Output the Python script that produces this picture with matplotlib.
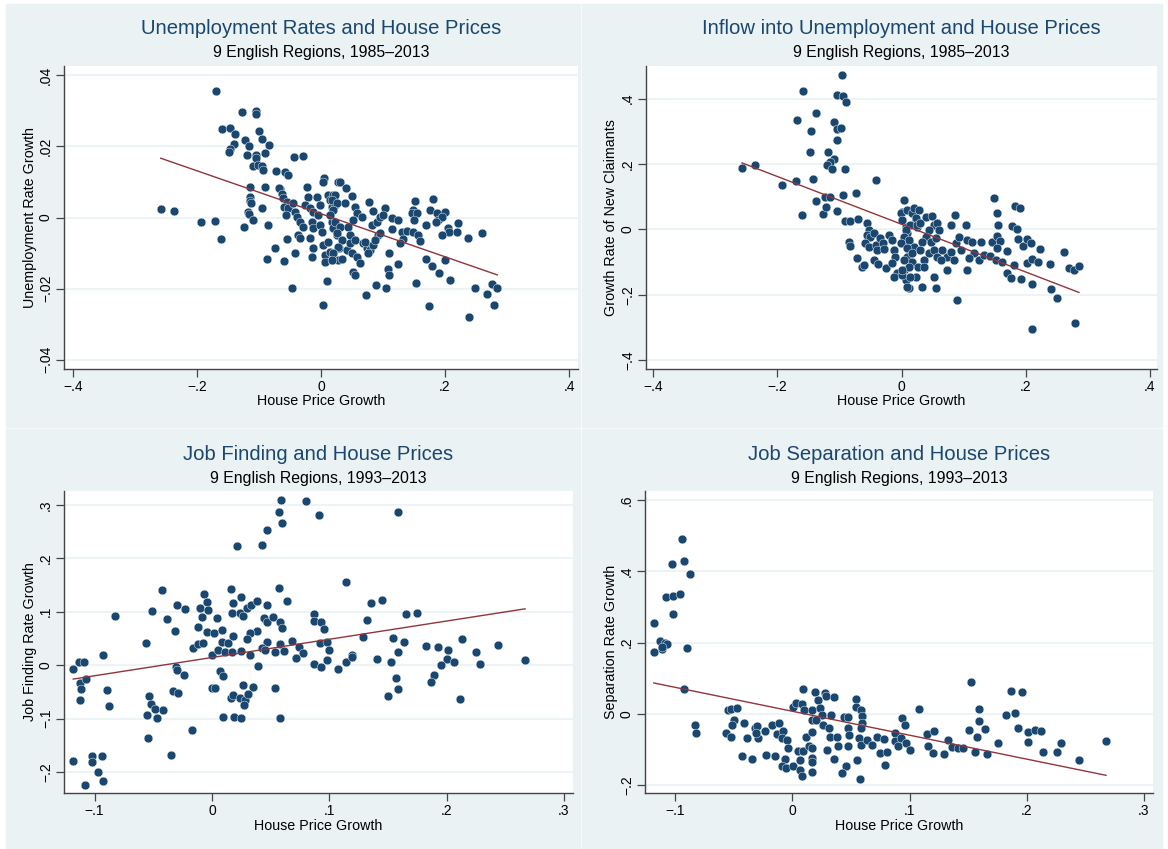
import matplotlib.pyplot as plt
import numpy as np
from matplotlib.patches import Rectangle

plt.rcParams['font.family'] = ['Liberation Sans', 'DejaVu Sans']

# (house price growth, unemployment rate growth), 9 regions 1985-2013
unemp = [
    (-0.169, 0.0356), (-0.128, 0.0297), (-0.105, 0.030), (-0.105, 0.029), (-0.160, 0.025),
    (-0.147, 0.0253), (-0.139, 0.0235), (-0.123, 0.0217), (-0.116, 0.0202), (-0.0995, 0.0243),
    (-0.0957, 0.0221), (-0.084, 0.0205), (-0.140, 0.0206), (-0.146, 0.0194), (-0.149, 0.0185),
    (-0.120, 0.0175), (-0.105, 0.0176), (-0.105, 0.0168), (-0.090, 0.018), (-0.110, 0.0144),
    (-0.101, 0.0147), (-0.0957, 0.0146), (-0.093, 0.0133), (-0.0726, 0.0131), (-0.0576, 0.0127),
    (-0.0537, 0.0119), (-0.0435, 0.0169), (-0.0285, 0.0172), (-0.1145, 0.0086), (-0.091, 0.0086),
    (-0.066, 0.008), (-0.1145, 0.0058), (-0.1145, 0.0047), (-0.113, 0.0042), (-0.095, 0.0028),
    (-0.118, 0.0016), (-0.116, 0.0009), (-0.109, -0.0008), (-0.124, -0.0028), (-0.0855, -0.0022),
    (-0.2585, 0.0023), (-0.237, 0.0017), (-0.1935, -0.0012), (-0.171, -0.0010), (-0.162, -0.006),
    (-0.0747, -0.0087), (-0.0866, -0.0117), (-0.060, -0.0122), (-0.0424, -0.0101), (-0.0548, -0.006),
    (-0.0468, -0.0199), (0.0092, -0.0178), (0.0037, -0.0246),
    (-0.067, 0.0082), (-0.0634, 0.0066), (-0.0608, 0.0054), (-0.0553, 0.0044), (-0.0597, 0.003),
    (-0.0527, 0.0026), (-0.0565, 0.0007), (-0.0446, 0.004), (-0.0419, 0.0016), (-0.0392, 0.0002),
    (-0.0339, -0.0012), (-0.0366, -0.0049), (-0.0339, -0.0058), (-0.0285, -0.0026), (-0.0231, 0.0087),
    (-0.021, 0.0058), (-0.0258, 0.0035), (-0.0177, 0.0026), (-0.0124, 0.0016), (-0.015, -0.0012),
    (-0.0124, -0.003), (-0.0177, -0.0058), (-0.0124, -0.0087), (-0.015, -0.011), (-0.0069, 0.0058),
    (-0.0016, 0.0035), (-0.0044, 0.0007), (-0.0016, -0.0021), (0.001, -0.004), (0.0037, -0.0077),
    (0.0065, -0.0105), (0.0065, -0.0124), (0.0048, 0.011), (0.0037, 0.0099), (0.0118, 0.0063),
    (0.0145, 0.0049), (0.0172, 0.003), (0.0199, 0.0063), (0.0226, 0.0035), (0.0145, 0.0007),
    (0.0172, -0.0012), (0.0199, -0.003), (0.0253, -0.0049), (0.0118, -0.0068), (0.0145, -0.0096),
    (0.0279, 0.01), (0.0296, -0.0087), (0.0279, -0.0119), (0.0172, -0.0119),
    (0.0306, 0.0101), (0.0403, 0.0082), (0.0495, 0.006), (0.0226, 0.0063), (0.0172, 0.0049),
    (0.0253, 0.004), (0.0199, 0.0021), (0.0145, 0.0007), (0.0226, -0.0012), (0.0306, -0.0026),
    (0.0253, -0.0044), (0.0333, -0.0063), (0.0279, -0.0082), (0.0199, -0.0101), (0.0172, -0.0119),
    (0.0333, -0.0117), (0.0414, -0.0091), (0.0468, -0.0073), (0.0387, 0.004), (0.0548, 0.003),
    (0.0575, 0.0012), (0.0522, -0.0007), (0.0441, -0.0026), (0.0468, -0.0049), (0.0548, -0.0063),
    (0.0495, -0.0101), (0.0575, -0.011), (0.0629, -0.0129), (0.0522, -0.0152), (0.0548, -0.0162),
    (0.0656, 0.0002), (0.0683, -0.0073), (0.0737, -0.0087), (0.071, -0.0068), (0.079, -0.0091),
    (0.0844, -0.0077), (0.0763, -0.0101), (0.078, 0.0044), (0.0844, 0.0019), (0.0817, -0.0021),
    (0.0898, -0.0012), (0.0952, 0.0002), (0.1032, 0.0026), (0.1005, 0.0007), (0.0925, -0.0049),
    (0.0871, -0.0063), (0.0952, -0.0044), (0.114, -0.0002), (0.1247, -0.0007), (0.114, -0.0032),
    (0.130, -0.004), (0.1328, -0.0061), (0.1274, -0.0073), (0.1382, -0.0037), (0.1489, 0.0021),
    (0.1462, 0.0012), (0.1516, 0.0047), (0.1554, 0.0012), (0.15, -0.0007), (0.1478, -0.004),
    (0.157, -0.0049), (0.1597, -0.0065), (0.1758, 0.0021), (0.1801, 0.0051), (0.1866, 0.0012),
    (0.1892, -0.0007), (0.2, 0.0015), (0.1946, 0.0002), (0.1855, -0.0012), (0.1688, -0.0022),
    (0.2215, -0.0015), (0.2054, -0.003), (0.207, -0.004), (0.2188, -0.004), (0.1946, -0.0049),
    (0.2376, -0.0058), (0.2602, -0.0044), (0.1091, -0.0101), (0.1237, -0.0131), (0.1086, -0.0145),
    (0.1102, -0.0162), (0.0882, -0.019), (0.1048, -0.0199), (0.0726, -0.0218), (0.1532, -0.0183),
    (0.1694, -0.0117), (0.179, -0.0136), (0.1909, -0.0157), (0.2, -0.0119), (0.2081, -0.0176),
    (0.1737, -0.0248), (0.2387, -0.028), (0.2489, -0.0198), (0.2677, -0.0215), (0.2753, -0.0188),
    (0.2844, -0.0199), (0.2785, -0.0246),
]

# (house price growth, growth rate of new claimants), 1985-2013
inflow = [
    (-0.257, 0.1865), (-0.2355, 0.1957), (-0.1919, 0.1355), (-0.1694, 0.1477), (-0.1602, 0.0437),
    (-0.158, 0.4239), (-0.1677, 0.3343), (-0.1457, 0.2997), (-0.1479, 0.2364), (-0.1376, 0.3557),
    (-0.1431, 0.1538), (-0.1382, 0.0865), (-0.1263, 0.0468), (-0.121, 0.0691), (-0.1226, 0.0978),
    (-0.1145, 0.0997), (-0.1092, 0.3272), (-0.1038, 0.3066), (-0.0973, 0.3098), (-0.1038, 0.2731),
    (-0.1189, 0.2364), (-0.1092, 0.215), (-0.1145, 0.2068), (-0.1199, 0.1966), (-0.1118, 0.1834),
    (-0.0914, 0.1834), (-0.1038, 0.4117), (-0.094, 0.4086), (-0.0952, 0.4719), (-0.0887, 0.3884),
    (-0.094, 0.1049), (-0.1038, 0.056), (-0.0903, 0.0263), (-0.0823, 0.0245), (-0.0737, 0.1101),
    (-0.0699, 0.0315), (-0.0419, 0.1508), (-0.085, -0.0379), (-0.0833, -0.0511), (-0.0715, -0.0887),
    (-0.0634, -0.1143), (-0.0608, -0.1091),
    (-0.0554, 0.0183), (-0.0527, -0.0021), (-0.0554, -0.0174), (-0.05, -0.0226), (-0.0446, -0.0104),
    (-0.0581, -0.041), (-0.0527, -0.0532), (-0.0419, -0.048), (-0.0392, -0.0633), (-0.0446, -0.0939),
    (-0.0382, -0.1061), (-0.0339, -0.0275), (-0.0296, -0.041), (-0.0285, -0.0612), (-0.0242, -0.1193),
    (-0.0204, -0.0174), (-0.015, -0.0327), (-0.0124, -0.0633), (-0.0097, -0.0838), (-0.015, -0.1041),
    (-0.0069, -0.1346), (-0.0124, -0.1448), (0.0011, 0.0538), (0.0037, 0.0896), (0.0011, 0.0284),
    (0.0065, 0.008), (0.0092, -0.0122), (0.0118, -0.0379), (0.0145, -0.0581), (0.0092, -0.0838),
    (0.0172, -0.0991), (0.0037, -0.1247), (0.0065, -0.1553), (0.0118, -0.1808), (0.0011, -0.1397),
    (0.0199, 0.059), (0.0226, 0.0284), (0.0253, 0.008), (0.0199, -0.0532), (0.0263, -0.1143),
    (0.0226, -0.1448),
    (-0.0016, 0.0489), (0.001, 0.0284), (0.0091, 0.059), (0.0172, 0.0489), (0.0199, 0.0642),
    (0.028, 0.059), (0.0226, 0.0336), (0.0145, 0.0131), (0.0065, -0.0021), (0.0038, -0.0226),
    (0.0118, -0.0327), (-0.0016, -0.0428), (0.0091, -0.0581), (0.0172, -0.0734), (0.0038, -0.0939),
    (0.0118, -0.1144), (0.001, -0.1245), (0.0145, -0.145), (0.0091, -0.1755), (0.0253, 0.0131),
    (0.0306, 0.0183), (0.0387, 0.0385), (0.0495, 0.0407), (0.0522, 0.0131), (0.0575, 0.0183),
    (0.0602, -0.0021), (0.0441, -0.0021), (0.0387, -0.0226), (0.0333, -0.0379), (0.0468, -0.0379),
    (0.0548, -0.0275), (0.0306, -0.0633), (0.036, -0.0939), (0.0441, -0.0734), (0.0522, -0.0633),
    (0.0575, -0.0838), (0.0656, -0.0633), (0.0737, -0.0838), (0.063, -0.0939), (0.079, -0.0685),
    (0.0844, -0.0939), (0.0871, -0.0428), (0.0925, -0.0226), (0.0952, -0.0633), (0.1032, 0.0131),
    (0.079, 0.0131), (0.0855, 0.0437), (0.1059, -0.0327), (0.114, -0.0379), (0.1167, -0.0734),
    (0.1086, -0.0887), (0.1247, -0.0939), (0.1274, -0.0379), (0.1328, -0.0786), (0.1425, -0.0817),
    (0.1462, -0.0379), (0.1543, -0.0205), (0.1516, -0.0939), (0.1624, -0.0991), (0.1489, 0.0966),
    (0.1532, 0.0489), (0.1554, 0.0131), (0.1586, -0.0358), (0.1532, -0.0581), (0.1704, -0.0654),
    (0.1812, -0.1092), (0.1704, -0.1346), (0.1758, -0.1498), (0.1785, 0.011), (0.1855, 0.0009),
    (0.1823, 0.0713), (0.1909, 0.0642), (0.1876, -0.0297), (0.1962, -0.0511), (0.2016, -0.0287),
    (0.2091, -0.0419), (0.2231, -0.0602), (0.2027, -0.1021), (0.2108, -0.0917), (0.2199, -0.0991),
    (0.2392, -0.107), (0.2618, -0.0685), (0.2699, -0.1193), (0.278, -0.1245), (0.286, -0.1122),
    (0.193, -0.1529), (0.2102, -0.1673), (0.2403, -0.1835), (0.25, -0.2092), (0.0898, -0.2162),
    (0.2108, -0.3058), (0.2796, -0.2875), (0.0333, -0.1755), (0.0548, -0.1804), (0.036, -0.1144),
    (0.0522, -0.145), (0.1059, -0.1245), (0.0737, -0.1245),
]

# (house price growth, job finding rate growth), 1993-2013
jobfind = [
    (-0.1181, -0.0069), (-0.113, 0.0067), (-0.109, 0.0067), (-0.1124, -0.0336), (-0.1118, -0.0449),
    (-0.1124, -0.0649), (-0.1073, -0.0256), (-0.1181, -0.1802), (-0.1022, -0.1708), (-0.102, -0.1813),
    (-0.094, -0.1708), (-0.0968, -0.2), (-0.0931, -0.2163), (-0.1082, -0.2243), (-0.0926, 0.0193),
    (-0.0897, -0.0475), (-0.0875, -0.0774), (-0.0826, 0.0927), (-0.0565, 0.0422), (-0.0514, 0.1021),
    (-0.0426, 0.1402), (-0.0386, 0.086), (-0.0313, 0.0641), (-0.0296, 0.1133), (-0.0227, 0.1047),
    (-0.0307, -0.0026), (-0.0301, -0.0088), (-0.0236, -0.0181), (-0.0335, -0.0493), (-0.029, -0.0531),
    (-0.0539, -0.0574), (-0.0551, -0.0929), (-0.0522, -0.0723), (-0.0471, -0.0985), (-0.0486, -0.0822),
    (-0.0415, -0.0835), (-0.0545, -0.1364), (-0.0352, -0.1682), (-0.0173, -0.1209), (-0.0159, 0.0329),
    (-0.0117, 0.0393), (-0.0074, 0.0411), (-0.0117, 0.0716), (-0.0088, 0.0897), (-0.0068, 0.1327),
    (-0.0045, 0.1183), (-0.0102, 0.1065), (-0.0031, 0.1034), (-0.0045, 0.0628), (0.0003, 0.0193),
    (0.0017, 0.0598), (0.004, 0.0878), (0.0083, 0.066), (0.0054, 0.0286), (0.0083, 0.0441),
    (0.0139, 0.0422), (0.0111, 0.0254), (0.0176, 0.0548), (0.0168, 0.0254), (0.0244, 0.0273),
    (0.0321, 0.0187), (0.0394, -0.0013), (0.0068, -0.0107), (0.0091, -0.02), (-0.0003, -0.043),
    (0.0026, -0.0437), (0.0164, 0.1432), (0.0181, 0.1159), (0.0247, 0.1282), (0.0168, 0.0972),
    (0.0239, 0.0972), (0.0261, 0.0927), (0.0296, 0.1065), (0.033, 0.1127), (0.0381, 0.1202),
    (0.0466, 0.1121), (0.0443, 0.0878), (0.0471, 0.0804), (0.0381, 0.0647), (0.0324, 0.0598),
    (0.0296, 0.0492), (0.0471, 0.0441), (0.0423, 0.0318), (0.0451, 0.0286), (0.0261, -0.0381),
    (0.0347, -0.0405), (0.0164, -0.0617), (0.0181, -0.0555), (0.0239, -0.0617), (0.0281, -0.0649),
    (0.0307, -0.0542), (0.0273, -0.0755), (0.0091, -0.0972), (0.0187, -0.0972), (0.0244, -0.0998),
    (0.021, 0.223), (0.0426, 0.2243), (0.0471, 0.2523), (0.0571, 0.2871), (0.0588, 0.3084),
    (0.0594, 0.2666), (0.0801, 0.3077), (0.0917, 0.2804), (0.0568, 0.1439), (0.0636, 0.1202),
    (0.0522, 0.0897), (0.0579, 0.0815), (0.0594, 0.0703), (0.0537, 0.0249), (0.0579, 0.0399),
    (0.0616, 0.0273), (0.0679, 0.046), (0.0744, 0.0348), (0.0778, 0.0236), (0.0716, 0.0124),
    (0.0537, -0.0424), (0.0577, -0.0985), (0.0869, 0.0953), (0.0869, 0.0822), (0.0928, 0.0815),
    (0.0957, 0.0685), (0.092, 0.0411), (0.0977, 0.0436), (0.0994, 0.028), (0.0977, 0.0099),
    (0.0869, 0.003), (0.0934, -0.0037), (0.1073, -0.0069), (0.1147, 0.1557), (0.1147, 0.0067),
    (0.1198, 0.0193), (0.1198, 0.015), (0.1289, 0.0535), (0.1323, 0.0852), (0.1352, 0.1159),
    (0.1448, 0.1215), (0.1411, 0.0112), (0.1525, 0.0062), (0.1545, 0.0516), (0.1635, 0.043),
    (0.1587, 0.0249), (0.1658, 0.0959), (0.1746, 0.0983), (0.1587, 0.286), (0.1567, -0.0237),
    (0.159, -0.0443), (0.1499, -0.0574), (0.1823, 0.0367), (0.1925, 0.0342), (0.201, 0.0286),
    (0.2004, 0.0112), (0.2064, 0.0067), (0.1951, 0.0006), (0.1894, -0.0181), (0.1863, -0.0312),
    (0.2132, 0.0486), (0.2115, -0.063), (0.2249, 0.0249), (0.2285, 0.003), (0.2442, 0.0385),
    (0.2669, 0.0099),
]

# (house price growth, separation rate growth), 1993-2013
jobsep = [
    (-0.1183, 0.1748), (-0.1177, 0.2561), (-0.1132, 0.2048), (-0.1113, 0.1823), (-0.109, 0.1982),
    (-0.107, 0.1954), (-0.1109, 0.1889), (-0.1019, 0.2795), (-0.1078, 0.329), (-0.1019, 0.331),
    (-0.0962, 0.3357), (-0.1024, 0.4198), (-0.0942, 0.49), (-0.0927, 0.43), (-0.087, 0.3927),
    (-0.0896, 0.1842), (-0.0925, 0.0692), (-0.0831, -0.0309), (-0.0819, -0.0533), (-0.0563, -0.0533),
    (-0.0526, -0.0664), (-0.0549, 0.0093), (-0.052, 0.0131), (-0.0472, 0.0149), (-0.0501, -0.0187),
    (-0.0512, -0.0309), (-0.0415, -0.0271), (-0.0387, -0.0692), (-0.0427, -0.1197), (-0.0347, -0.1272),
    (-0.0319, -0.0411), (-0.0305, -0.0355), (-0.0293, -0.0683), (-0.0307, -0.0542), (-0.0233, -0.0486),
    (-0.0225, -0.115), (-0.0171, -0.0309), (-0.0117, -0.0262), (-0.0128, -0.0561), (-0.008, -0.0496),
    (-0.0085, -0.0683), (-0.0043, -0.0729), (-0.0037, -0.0963), (-0.0151, -0.1197), (-0.0063, -0.1272),
    (-0.0091, -0.1459), (-0.0051, -0.1524), (0.0005, -0.1477), (0.0048, -0.1057), (0.009, -0.1057),
    (0.0062, -0.129), (0.0068, -0.1571), (0.0085, -0.1739), (0.0005, 0.0178), (0.0034, 0.0299),
    (0.009, 0.0692), (0.0079, 0.028), (0.0096, 0.0112), (0.0113, -0.0664), (0.0139, -0.0916),
    (0.0171, -0.0963), (0.0165, -0.1244), (0.0171, -0.1365), (0.0171, -0.1627), (0.0171, -0.0514),
    (0.0171, 0.0112), (0.019, 0.0617), (0.0219, 0.0393), (0.0239, 0.0159), (0.0253, -0.0028),
    (0.0171, -0.0187), (0.0199, -0.0187), (0.0276, 0.058), (0.0284, 0.0486), (0.0333, -0.0028),
    (0.0352, 0.0458), (0.0261, -0.0309), (0.0312, -0.0402), (0.0324, -0.0654), (0.0295, -0.101),
    (0.0358, -0.1272), (0.0387, -0.0916), (0.0384, -0.0654), (0.0438, -0.0093), (0.0474, -0.0093),
    (0.0455, -0.1459), (0.0478, -0.0402), (0.0483, -0.0589), (0.0478, -0.0916), (0.0423, -0.1655),
    (0.054, 0.0421), (0.0546, 0.0178), (0.0589, 0.0112), (0.0597, -0.0056), (0.0597, -0.0262),
    (0.0589, -0.0402), (0.0569, -0.0683), (0.0589, -0.0888), (0.0551, -0.129), (0.0574, -0.1823),
    (0.0637, -0.0729), (0.0683, -0.087), (0.0722, -0.0664), (0.0747, -0.1103), (0.0782, -0.0701),
    (0.0807, -0.1075), (0.0788, -0.1431), (0.0876, -0.0542), (0.0873, -0.0776), (0.0904, -0.0916),
    (0.0935, -0.0122), (0.0964, -0.0327), (0.0924, -0.0683), (0.0973, -0.0823), (0.1001, -0.1028),
    (0.1078, 0.014), (0.1152, -0.057), (0.1206, -0.0496), (0.1155, -0.0907), (0.1203, -0.1113),
    (0.1297, -0.1131), (0.1328, -0.0739), (0.1362, -0.0944), (0.1413, -0.0963), (0.1456, -0.0963),
    (0.1504, -0.0449), (0.1527, 0.0879), (0.1555, -0.1075), (0.1579, -0.0654), (0.1592, -0.0206),
    (0.1595, 0.0131), (0.1641, -0.043), (0.1664, -0.1141), (0.1752, -0.0823), (0.1826, -0.0028),
    (0.1869, 0.0636), (0.1903, 0.002), (0.1957, 0.0617), (0.1928, -0.0402), (0.2014, -0.0514),
    (0.2067, -0.0458), (0.2121, -0.0496), (0.2014, -0.0785), (0.2138, -0.1075), (0.2255, -0.1085),
    (0.2289, -0.0832), (0.2449, -0.1299), (0.2676, -0.0757),
]

titles = ["Unemployment Rates and House Prices", "Inflow into Unemployment and House Prices",
          "Job Finding and House Prices", "Job Separation and House Prices"]
subtitles = ["9 English Regions, 1985\u20132013", "9 English Regions, 1985\u20132013",
             "9 English Regions, 1993\u20132013", "9 English Regions, 1993\u20132013"]
ylabels = ["Unemployment Rate Growth", "Growth Rate of New Claimants",
           "Job Finding Rate Growth", "Separation Rate Growth"]
xlabel = "House Price Growth"

xticks_top = [-0.4, -0.2, 0, 0.2, 0.4]
xticks_bot = [-0.1, 0, 0.1, 0.2, 0.3]
yticks = [[-0.04, -0.02, 0, 0.02, 0.04], [-0.4, -0.2, 0, 0.2, 0.4],
          [-0.2, -0.1, 0, 0.1, 0.2, 0.3], [-0.2, 0, 0.2, 0.4, 0.6]]


def stata_lbl(v):
    if abs(v) < 1e-12:
        return "0"
    s = ("%g" % abs(v)).lstrip("0")
    return ("\u2212" if v < 0 else "") + s


W, H = 1168, 849
bg = "#EAF2F3"
navy = "#1A476F"
maroon = "#90353B"

fig = plt.figure(figsize=(W / 100, H / 100), dpi=100, facecolor="white")

# panel backgrounds (pixels: x0, y0, x1, y1)
for (x0, y0, x1, y1) in [(6, 4, 580, 427), (582, 4, 1162, 427),
                         (6, 429, 580, 849), (582, 429, 1162, 849)]:
    fig.patches.append(Rectangle((x0 / W, 1 - y1 / H), (x1 - x0) / W, (y1 - y0) / H,
                                 transform=fig.transFigure, color=bg, zorder=-5))

# plot areas in pixels: left, top, right, bottom
boxes = [(64, 66, 578, 369), (646, 66, 1157, 369), (64, 491, 573, 793), (645, 491, 1153, 793)]
xlims = [(-0.4145, 0.4145), (-0.4118, 0.4118), (-0.126, 0.3077), (-0.1258, 0.3077)]
ylims = [(-0.0426, 0.0426), (-0.4272, 0.4994), (-0.2393, 0.3258), (-0.2224, 0.6255)]
ylab_x = [30, 611, 30, 611]
datasets = [unemp, inflow, jobfind, jobsep]

for i, pts in enumerate(datasets):
    l, t, r, b = boxes[i]
    ax = fig.add_axes([l / W, 1 - b / H, (r - l) / W, (b - t) / H])
    ax.set_zorder(2)
    ax.set_facecolor("white")
    x, y = np.array(pts).T
    ax.scatter(x, y, s=40, color=navy, edgecolors="white", linewidths=0.3, zorder=3)
    k, c = np.polyfit(x, y, 1)
    xx = np.array([x.min(), x.max()])
    ax.plot(xx, k * xx + c, color=maroon, lw=1.0, zorder=4)

    xt = xticks_top if i < 2 else xticks_bot
    ax.set_xticks(xt)
    ax.set_xticklabels([stata_lbl(v) for v in xt])
    ax.set_yticks(yticks[i])
    ax.set_yticklabels([stata_lbl(v) for v in yticks[i]], rotation=90, va="center")
    ax.set_xlim(*xlims[i])
    ax.set_ylim(*ylims[i])
    ax.grid(axis="y", color=bg, lw=1.2, zorder=0)
    ax.set_axisbelow(True)
    for s in ["top", "right"]:
        ax.spines[s].set_visible(False)
    for s in ["left", "bottom"]:
        ax.spines[s].set_color("#444444")
        ax.spines[s].set_linewidth(1.0)
    ax.tick_params(direction="out", length=6, width=0.9, color="#444444",
                   labelsize=10, pad=2)

    cx = (l + r) / 2
    off = 0 if i < 2 else 425
    fig.text(cx / W, 1 - (29 + off) / H, titles[i], ha="center", va="center",
             fontsize=14.6, color=navy)
    fig.text(cx / W, 1 - (53 + off) / H, subtitles[i], ha="center", va="center",
             fontsize=11.4, color="black")
    fig.text(cx / W, 1 - (401 + off) / H, xlabel, ha="center", va="center", fontsize=10.3)
    fig.text(ylab_x[i] / W, 1 - ((t + b) / 2) / H, ylabels[i], ha="center", va="center",
             rotation=90, fontsize=10.3)

fig.savefig("out.png", dpi=100, facecolor="white")
